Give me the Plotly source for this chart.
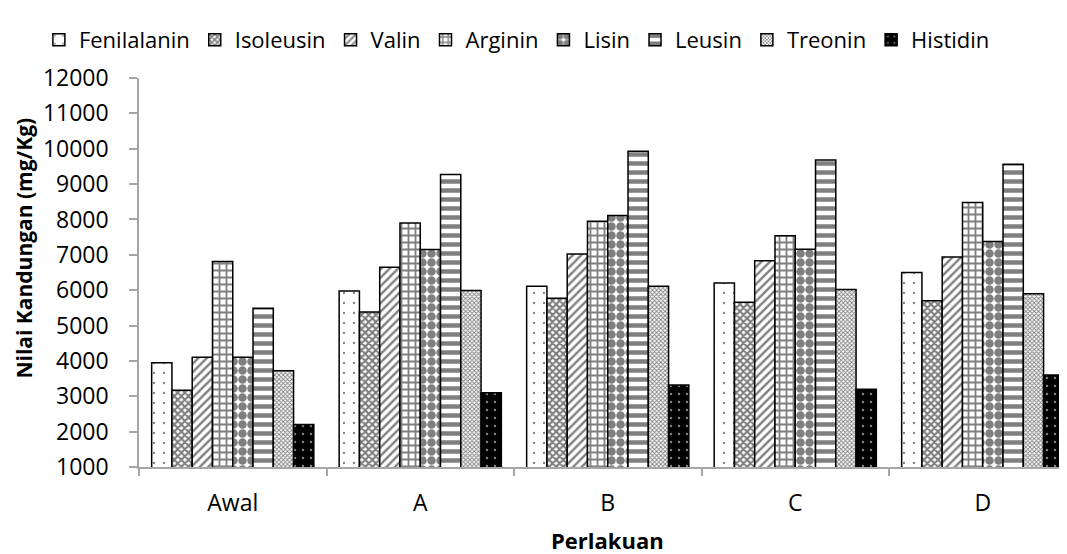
import plotly.graph_objects as go

categories = ["Awal", "A", "B", "C", "D"]
series_names = ["Fenilalanin", "Isoleusin", "Valin", "Arginin", "Lisin", "Leusin", "Treonin", "Histidin"]

fenilalanin = [3950, 5980, 6110, 6200, 6500]
isoleusin = [3170, 5380, 5770, 5660, 5700]
valin = [4100, 6650, 7020, 6830, 6940]
arginin = [6810, 7900, 7950, 7540, 8480]
lisin = [4100, 7150, 8110, 7160, 7380]
leusin = [5490, 9270, 9930, 9680, 9560]
treonin = [3720, 5990, 6110, 6020, 5900]
histidin = [2200, 3100, 3320, 3200, 3600]

values = [fenilalanin, isoleusin, valin, arginin, lisin, leusin, treonin, histidin]

y_ticks = list(range(1000, 12001, 1000))
y_tick_labels = [str(v) for v in y_ticks]

patterns = [
    dict(shape=".", size=10, solidity=0.04, fgcolor="black", bgcolor="white"),
    dict(shape="x", size=5, solidity=0.65, fgcolor="black", bgcolor="white"),
    dict(shape="/", size=6, solidity=0.4, fgcolor="black", bgcolor="white"),
    dict(shape="+", size=7, solidity=0.45, fgcolor="black", bgcolor="white"),
    dict(shape=".", size=9, solidity=0.7, fgcolor="black", bgcolor="white"),
    dict(shape="-", size=9, solidity=0.5, fgcolor="black", bgcolor="white"),
    dict(shape="x", size=3, solidity=0.5, fgcolor="black", bgcolor="white"),
    dict(shape=".", size=8, solidity=0.08, fgcolor="white", bgcolor="black"),
]

FONT = "Open Sans"

fig = go.Figure()
for name, vals, pat in zip(series_names, values, patterns):
    fig.add_trace(go.Bar(
        x=categories, y=vals, name=name,
        marker=dict(color="white", pattern=pat, line=dict(color="black", width=1.5)),
    ))

fig.update_layout(
    width=1067, height=554,
    margin=dict(l=131, r=9, t=70, b=95),
    paper_bgcolor="white", plot_bgcolor="white",
    barmode="group", bargap=0.135, bargroupgap=0,
    font=dict(family=FONT, size=22, color="black"),
    showlegend=True,
    legend=dict(orientation="h", x=-0.108, xanchor="left", y=1.098, yanchor="middle",
                font=dict(family=FONT, size=22, color="black"), traceorder="normal",
                itemwidth=30),
    xaxis=dict(range=[-0.5, 4.444], showline=True, linecolor="#a6a6a6", linewidth=1.5,
               ticks="outside", tickson="boundaries", ticklen=7, tickcolor="#a6a6a6",
               tickwidth=1.5, showgrid=False, ticklabelstandoff=15,
               tickfont=dict(family=FONT, size=23)),
    yaxis=dict(range=[1000, 12000], tickvals=y_ticks, ticktext=y_tick_labels, showline=True,
               linecolor="#a6a6a6", linewidth=1.5, ticks="outside", ticklen=8,
               tickcolor="#a6a6a6", tickwidth=1.5, showgrid=False, zeroline=False,
               ticklabelstandoff=16, tickfont=dict(family=FONT, size=23)),
    annotations=[
        dict(text="<b>Nilai Kandungan (mg/Kg)</b>", textangle=-90, xref="paper", yref="paper",
             x=-0.1245, y=0.563, xanchor="center", yanchor="middle", showarrow=False,
             font=dict(family=FONT, size=21)),
        dict(text="<b>Perlakuan</b>", xref="paper", yref="paper",
             x=0.505, y=-0.188, xanchor="center", yanchor="middle", showarrow=False,
             font=dict(family=FONT, size=22)),
    ],
)

fig.write_html("out.html")
